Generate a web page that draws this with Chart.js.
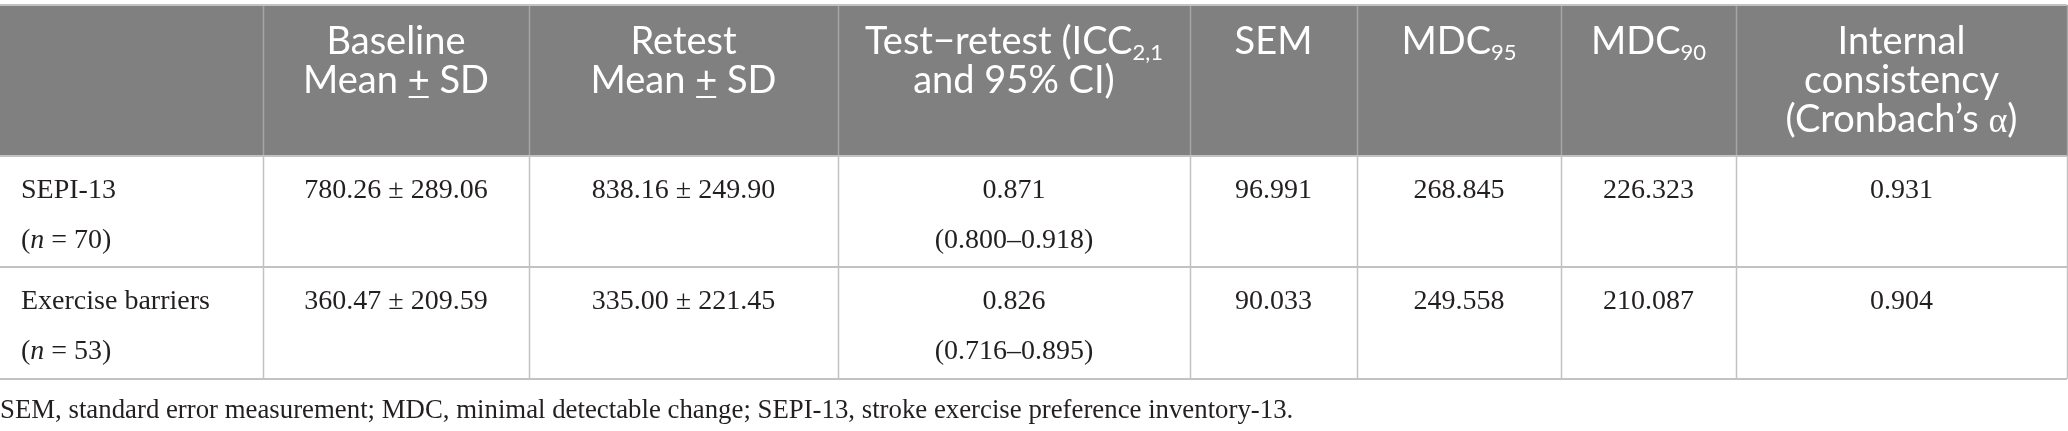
<!DOCTYPE html>
<html>
<head>
<meta charset="utf-8">
<script src="https://cdn.jsdelivr.net/npm/chart.js@4.4.1/dist/chart.umd.min.js"></script>
<style>
  html, body { margin: 0; padding: 0; background: #ffffff; }
  #wrap { width: 2068px; height: 431px; }
</style>
</head>
<body>
<div id="wrap"><canvas id="myChart" width="2068" height="431"></canvas></div>
<script>
// table values
const measures = ["SEPI-13", "Exercise barriers"];
const sampleN = [70, 53];
const baselineMean = [780.26, 360.47];
const baselineSD = [289.06, 209.59];
const retestMean = [838.16, 335.00];
const retestSD = [249.90, 221.45];
const icc = [0.871, 0.826];
const iccLow = [0.800, 0.716];
const iccHigh = [0.918, 0.895];
const sem = [96.991, 90.033];
const mdc95 = [268.845, 249.558];
const mdc90 = [226.323, 210.087];
const cronbach = [0.931, 0.904];
const footnote = "SEM, standard error measurement; MDC, minimal detectable change; SEPI-13, stroke exercise preference inventory-13.";

// layout
const colX = [0, 263, 529, 838, 1190, 1357, 1561, 1736, 2067];
const rowY = [5, 156, 267, 379];
const headFont = "38px Lato";
const subFont = "22px Lato";
const bodyFont = "28px 'Liberation Serif'";
const bodyItalic = "italic 28px 'Liberation Serif'";
const ink = "#231f20";

const H = (t) => ({ t: t, f: headFont });
const S = (t) => ({ t: t, f: subFont, dy: 6 });
const headers = [
  [],
  [[H("Baseline")], [H("Mean "), { t: "+", f: headFont, u: true }, H(" SD")]],
  [[H("Retest")], [H("Mean "), { t: "+", f: headFont, u: true }, H(" SD")]],
  [[H("Test\u2212retest (ICC"), S("2,1")], [H("and 95% CI)")]],
  [[H("SEM")]],
  [[H("MDC"), S("95")]],
  [[H("MDC"), S("90")]],
  [[H("Internal")], [H("consistency")], [H("(Cronbach\u2019s "), { t: "\u03b1", f: "36px 'Liberation Serif'" }, H(")")]],
];

function drawRuns(ctx, runs, x, y, align) {
  let w = 0;
  runs.forEach((r) => { ctx.font = r.f; w += ctx.measureText(r.t).width; });
  let cx = align === "left" ? x : x - w / 2;
  runs.forEach((r) => {
    ctx.font = r.f;
    const rw = ctx.measureText(r.t).width;
    ctx.fillText(r.t, cx, y + (r.dy || 0));
    if (r.u) {
      ctx.fillRect(cx + 1, y + 3, rw - 2, 2);
    }
    cx += rw;
  });
}

const B = (t) => ({ t: t, f: bodyFont });

const tablePlugin = {
  id: "tablePlugin",
  beforeDraw(chart) {
    const ctx = chart.ctx;
    ctx.save();
    ctx.fillStyle = "#ffffff";
    ctx.fillRect(0, 0, chart.width, chart.height);

    // header band
    ctx.fillStyle = "#7f807f";
    ctx.fillRect(0, rowY[0], colX[colX.length - 1], rowY[1] - rowY[0]);

    ctx.textBaseline = "alphabetic";
    ctx.fillStyle = "#ffffff";
    headers.forEach((lines, c) => {
      const mid = (colX[c] + colX[c + 1]) / 2;
      lines.forEach((runs, i) => drawRuns(ctx, runs, mid, 54 + i * 39, "center"));
    });

    // body rows
    const labels = chart.data.labels;
    ctx.fillStyle = ink;
    labels.forEach((name, r) => {
      const top = rowY[r + 1];
      const y1 = top + 42, y2 = top + 92;
      drawRuns(ctx, [B(name)], 21, y1, "left");
      drawRuns(ctx, [B("("), { t: "n", f: bodyItalic }, B(" = " + sampleN[r] + ")")], 21, y2, "left");
      const cells = [
        [baselineMean[r].toFixed(2) + " \u00b1 " + baselineSD[r].toFixed(2)],
        [retestMean[r].toFixed(2) + " \u00b1 " + retestSD[r].toFixed(2)],
        [icc[r].toFixed(3), "(" + iccLow[r].toFixed(3) + "\u2013" + iccHigh[r].toFixed(3) + ")"],
        [sem[r].toFixed(3)],
        [mdc95[r].toFixed(3)],
        [mdc90[r].toFixed(3)],
        [cronbach[r].toFixed(3)],
      ];
      cells.forEach((txt, k) => {
        const c = k + 1;
        const mid = (colX[c] + colX[c + 1]) / 2;
        txt.forEach((t, i) => drawRuns(ctx, [B(t)], mid, i === 0 ? y1 : y2, "center"));
      });
    });

    // grid lines
    ctx.lineWidth = 1.5;
    for (let c = 1; c < colX.length; c++) {
      ctx.strokeStyle = "#a4a5a4";
      ctx.beginPath();
      ctx.moveTo(colX[c] + 0.5, rowY[0]);
      ctx.lineTo(colX[c] + 0.5, rowY[1]);
      ctx.stroke();
      ctx.strokeStyle = "#c2c2c2";
      ctx.beginPath();
      ctx.moveTo(colX[c] + 0.5, rowY[1]);
      ctx.lineTo(colX[c] + 0.5, rowY[3]);
      ctx.stroke();
    }
    ctx.strokeStyle = "#c2c2c2";
    ctx.lineWidth = 2;
    rowY.forEach((y) => {
      ctx.beginPath();
      ctx.moveTo(0, y);
      ctx.lineTo(colX[colX.length - 1], y);
      ctx.stroke();
    });

    // footnote, sized to the reference width
    ctx.font = "27px 'Liberation Serif'";
    const fs = Math.min(30, 27 * 1292 / ctx.measureText(footnote).width);
    ctx.fillStyle = ink;
    drawRuns(ctx, [{ t: footnote, f: fs.toFixed(1) + "px 'Liberation Serif'" }], 0, 418, "left");
    ctx.restore();
  },
};

var myChart = new Chart(document.getElementById("myChart").getContext("2d"), {
  type: "bar",
  data: {
    labels: measures,
    datasets: [],
  },
  options: {
    responsive: false,
    animation: false,
    devicePixelRatio: 1,
    layout: { padding: 0 },
    plugins: {
      legend: { display: false },
      tooltip: { enabled: false },
    },
    scales: {
      x: { display: false },
      y: { display: false },
    },
  },
  plugins: [tablePlugin],
});
</script>
</body>
</html>
